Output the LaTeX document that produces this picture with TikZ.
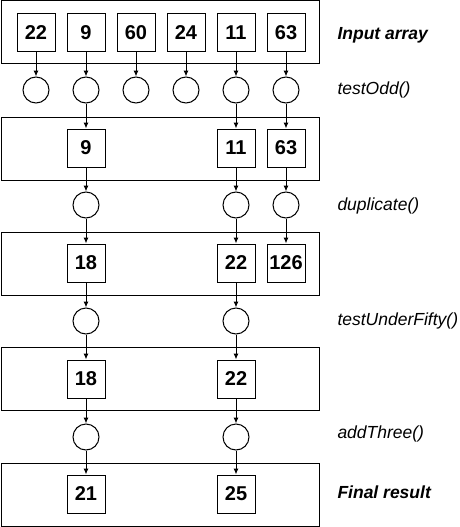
\documentclass[tikz,border=0pt]{standalone}
\usepackage{fontspec}
\setmainfont{Liberation Sans}
\usetikzlibrary{arrows.meta}
\tikzset{
  stage/.style={draw,minimum width=318pt,minimum height=63pt,inner sep=0pt},
  val/.style={draw,minimum size=38pt,inner sep=0pt,font=\fontsize{20}{24}\selectfont\bfseries},
  filt/.style={draw,circle,minimum size=26pt,inner sep=0pt},
  lbl/.style={anchor=west,inner sep=0pt,font=\fontsize{17.5}{21}\selectfont\itshape},
  flow/.style={-{Latex[length=6pt,width=5pt]}}
}
\begin{document}
\begin{tikzpicture}[x=1pt,y=-1pt,line width=1pt]
            \useasboundingbox (0,0) rectangle (459,527);
            % the five stages
            \node[stage] (s0) at (160,32.5) {};
            \node[stage] (s1) at (160,148.5) {};
            \node[stage] (s2) at (160,264) {};
            \node[stage] (s3) at (160,379) {};
            \node[stage] (s4) at (160,494.5) {};
            % input array and testOdd()
            \foreach \v [count=\i from 0] in {22,9,60,24,11,63} {
                \node[val] (a\i) at (36+50*\i,33) {\v};
                \node[filt] (c\i) at (36+50*\i,90) {};
                \draw[flow] (a\i) -- (c\i);
            }
            % odd values and duplicate()
            \foreach \v/\i in {9/1,11/4,63/5} {
                \node[val] (b\i) at (36+50*\i,148) {\v};
                \node[filt] (d\i) at (36+50*\i,205) {};
                \draw[flow] (c\i) -- (b\i);
                \draw[flow] (b\i) -- (d\i);
            }
            % doubled values
            \foreach \v/\i in {18/1,22/4,126/5} {
                \node[val] (e\i) at (36+50*\i,263) {\v};
                \draw[flow] (d\i) -- (e\i);
            }
            % testUnderFifty() and addThree()
            \foreach \v/\w/\i in {18/21/1,22/25/4} {
                \node[filt] (f\i) at (36+50*\i,321) {};
                \node[val] (g\i) at (36+50*\i,379) {\v};
                \node[filt] (h\i) at (36+50*\i,437) {};
                \node[val] (k\i) at (36+50*\i,494) {\w};
                \draw[flow] (e\i) -- (f\i);
                \draw[flow] (f\i) -- (g\i);
                \draw[flow] (g\i) -- (h\i);
                \draw[flow] (h\i) -- (k\i);
            }
            \node[lbl,font=\fontsize{17.5}{21}\selectfont\bfseries\itshape] (tIn) at (337,35) {Input array};
            \node[lbl] (tOdd) at (337,90) {testOdd()};
            \node[lbl] (tDup) at (337,206) {duplicate()};
            \node[lbl] (tFifty) at (337,321) {testUnderFifty()};
            \node[lbl] (tThree) at (337,434) {addThree()};
            \node[lbl,font=\fontsize{17.5}{21}\selectfont\bfseries\itshape] (tRes) at (337,492) {Final result};
        \end{tikzpicture}
\end{document}
